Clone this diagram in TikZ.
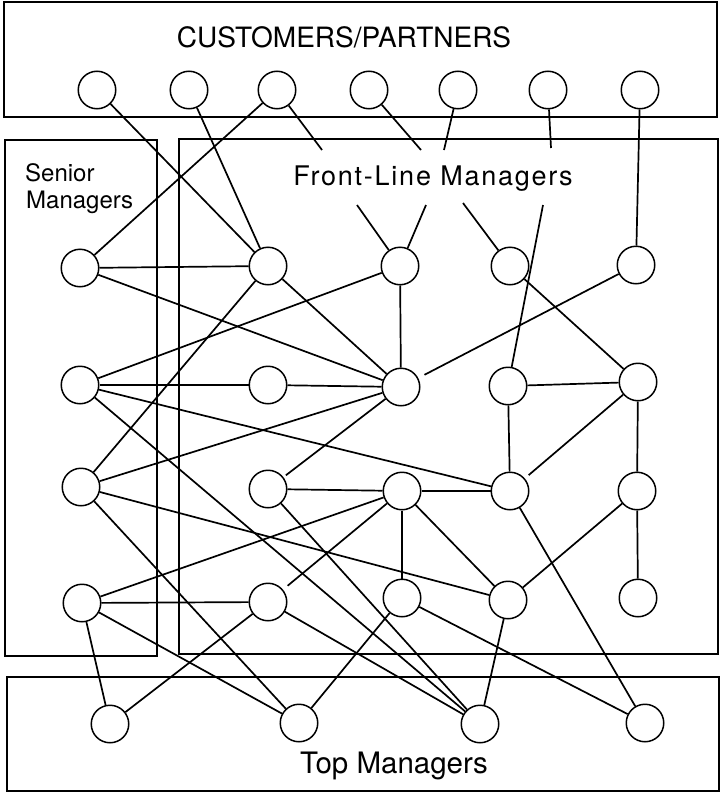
\documentclass[tikz,border=0pt]{standalone}
\usepackage{fontspec}
\setmainfont{TeX Gyre Heros}
\newfontfamily\trackedfont[LetterSpace=6.5]{TeX Gyre Heros}
\usetikzlibrary{backgrounds}
\begin{document}
\begin{tikzpicture}[x=1pt,y=-1pt,
  member/.style={circle,draw,line width=1.5pt,fill=white,minimum size=37.5pt,inner sep=0pt},
  link/.style={line width=1.7pt},
  frame/.style={line width=1.5pt},
  heading/.style={inner sep=0pt,anchor=base}]
\useasboundingbox (0,0) rectangle (722,795);

% group frames
\draw[frame] (4,2) rectangle (717,117);
\draw[frame] (5,140) rectangle (157,656);
\draw[frame] (179,139) rectangle (718,654);
\draw[frame] (7,677) rectangle (719,791);

% group titles
\node[heading] (custlabel) at (344,47) {\fontsize{28}{34}\selectfont CUSTOMERS/PARTNERS};
\node[heading] (frontlabel) at (433,185) {\trackedfont\fontsize{27}{32}\selectfont Front-Line Managers};
\node[heading,anchor=base west] (senlabA) at (25,181) {\fontsize{24}{29}\selectfont Senior};
\node[heading,anchor=base west] (senlabB) at (26,208) {\fontsize{24}{29}\selectfont Managers};
\node[heading] (toplabel) at (394,773) {\fontsize{29.5}{35}\selectfont Top Managers};

% customers / partners
\node[member] (T1) at (97,90) {};
\node[member] (T2) at (189,90) {};
\node[member] (T3) at (277,90) {};
\node[member] (T4) at (369,90) {};
\node[member] (T5) at (458,90) {};
\node[member] (T6) at (548,90) {};
\node[member] (T7) at (640,90) {};

% senior managers
\node[member] (S1) at (80,268) {};
\node[member] (S2) at (80,385) {};
\node[member] (S3) at (81,487) {};
\node[member] (S4) at (82,603) {};

% front-line managers
\node[member] (A1) at (268,266) {};
\node[member] (C1) at (400,266) {};
\node[member] (D1) at (510,266) {};
\node[member] (E1) at (636,265) {};
\node[member] (A2) at (268,385) {};
\node[member] (C2) at (401,387) {};
\node[member] (D2) at (508,386) {};
\node[member] (E2) at (638,382) {};
\node[member] (A3) at (268,489) {};
\node[member] (C3) at (402,491) {};
\node[member] (D3) at (510,491) {};
\node[member] (E3) at (637,491) {};
\node[member] (A4) at (268,602) {};
\node[member] (C4) at (402,598) {};
\node[member] (D4) at (508,600) {};
\node[member] (E4) at (638,598) {};

% top managers
\node[member] (P1) at (110,724) {};
\node[member] (P2) at (299,723) {};
\node[member] (P3) at (480,724) {};
\node[member] (P4) at (645,723) {};

% free ends meeting the front-line title
\coordinate (fT3) at (322,150);
\coordinate (fT4) at (421,150);
\coordinate (fT5) at (444,150);
\coordinate (fT6) at (551,148);
\coordinate (fC1a) at (357,205);
\coordinate (fC1b) at (426,205);
\coordinate (fD1) at (463,203);
\coordinate (fD2) at (543,205);

\begin{pgfonlayer}{background}
% customers to the organisation
\draw[link] (T1) -- (A1);
\draw[link] (T2) -- (A1);
\draw[link] (T3) -- (S1);
\draw[link] (T7) -- (E1);
\draw[link] (T3) -- (fT3);
\draw[link] (T4) -- (fT4);
\draw[link] (T5) -- (fT5);
\draw[link] (T6) -- (fT6);
\draw[link] (fC1a) -- (C1);
\draw[link] (fC1b) -- (C1);
\draw[link] (fD1) -- (D1);
\draw[link] (fD2) -- (D2);

% first and second rows
\draw[link] (S1) -- (A1);
\draw[link] (S1) -- (C2);
\draw[link] (A1) -- (S3);
\draw[link] (A1) -- (C2);
\draw[link] (S2) -- (C1);
\draw[link] (S2) -- (A2);
\draw[link] (A2) -- (C2);
\draw[link] (S2) -- (D3);
\draw[link] (S2) -- (P3);
\draw[link] (C1) -- (C2);
\draw[link,shorten <=7pt] (C2) -- (E1);
\draw[link] (D1) -- (E2);
\draw[link] (D2) -- (E2);
\draw[link] (D2) -- (D3);
\draw[link] (E2) -- (E3);
\draw[link,shorten >=5pt] (E2) -- (D3);

% third and fourth rows
\draw[link] (S3) -- (C2);
\draw[link,shorten <=3pt] (A3) -- (C2);
\draw[link] (S3) -- (D4);
\draw[link] (S3) -- (P2);
\draw[link] (A3) -- (C3);
\draw[link] (C3) -- (D3);
\draw[link] (C3) -- (C4);
\draw[link] (C3) -- (D4);
\draw[link] (A3) -- (P3);
\draw[link] (S4) -- (C3);
\draw[link] (S4) -- (A4);
\draw[link] (S4) -- (P1);
\draw[link] (S4) -- (P2);
\draw[link] (P1) -- (A4);
\draw[link,shorten <=6pt] (A4) -- (C3);
\draw[link] (A4) -- (P3);
\draw[link] (C4) -- (P2);
\draw[link] (C4) -- (P4);
\draw[link] (D4) -- (P3);
\draw[link] (D3) -- (P4);
\draw[link] (E3) -- (D4);
\draw[link] (E3) -- (E4);
\end{pgfonlayer}
\end{tikzpicture}
\end{document}
